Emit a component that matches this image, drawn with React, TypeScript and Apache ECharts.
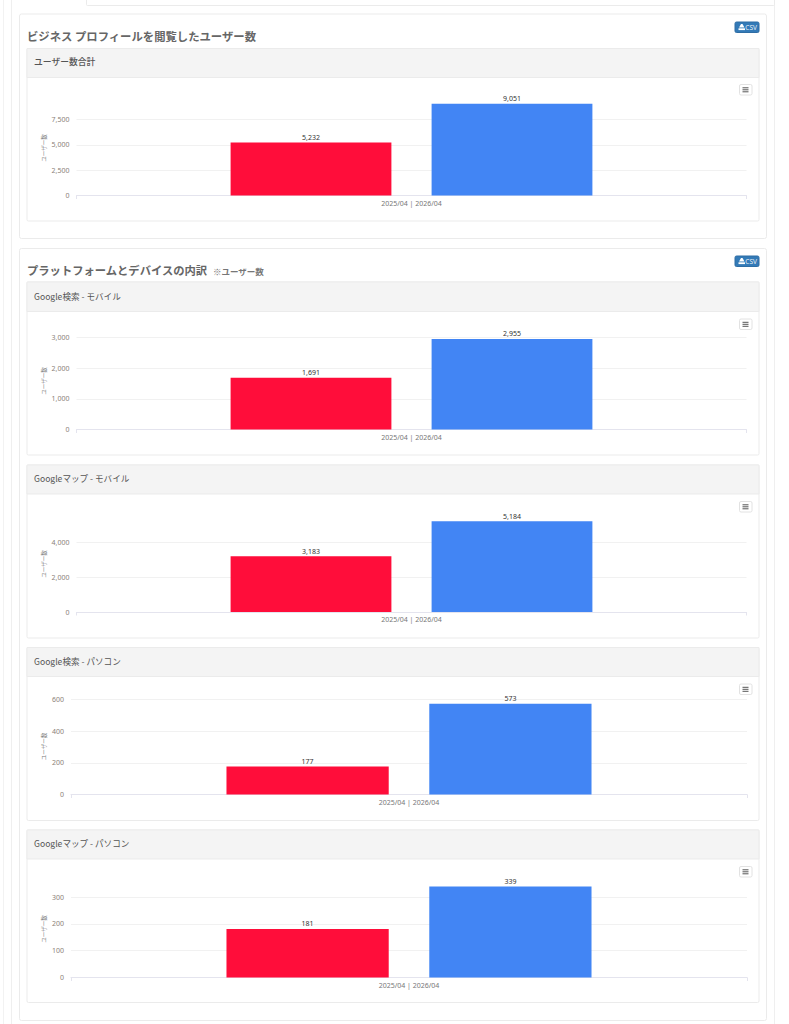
import React, { useEffect, useRef } from "react";
import * as echarts from "echarts";

const categories = ["2025/04 | 2026/04"];
const seriesNames = ["2025/04", "2026/04"];
const seriesColors = ["#ff0d3a", "#4285f4"];
const axisName = "ユーザー数";

const totalValues = [5232, 9051];
const searchMobileValues = [1691, 2955];
const mapMobileValues = [3183, 5184];
const searchPcValues = [177, 573];
const mapPcValues = [181, 339];

const chartTitles = ["ユーザー数合計", "Google検索 - モバイル", "Googleマップ - モバイル", "Google検索 - パソコン", "Googleマップ - パソコン"];
const sectionTitle1 = "ビジネス プロフィールを閲覧したユーザー数";
const sectionTitle2 = "プラットフォームとデバイスの内訳";
const sectionNote = "※ユーザー数";

const charts = [
  { values: totalValues, title: chartTitles[0], max: 10000, interval: 2500, hideTop: true, left: 76.5, width: 670, top: 94.17, height: 101.33, panel: [48, 77, 220.5], nameY: 148, btnY: 84.5 },
  { values: searchMobileValues, title: chartTitles[1], max: 3000, interval: 1000, hideTop: false, left: 76.5, width: 670, top: 337.5, height: 92, panel: [281.5, 311, 454.5], nameY: 381, btnY: 319 },
  { values: mapMobileValues, title: chartTitles[2], max: 6000, interval: 2000, hideTop: true, left: 76.5, width: 670, top: 507, height: 105, panel: [464.5, 493.5, 637.5], nameY: 564, btnY: 501.5 },
  { values: searchPcValues, title: chartTitles[3], max: 600, interval: 200, hideTop: false, left: 71, width: 676, top: 699.5, height: 95, panel: [647, 676, 820], nameY: 746.5, btnY: 684 },
  { values: mapPcValues, title: chartTitles[4], max: 400, interval: 100, hideTop: true, left: 71, width: 676, top: 870.2, height: 107.3, panel: [829.5, 858.5, 1002], nameY: 929, btnY: 866.5 },
];

const CJK = '"Noto Sans CJK JP", "Noto Sans", sans-serif';
const LATIN = '"Noto Sans", "Noto Sans CJK JP", sans-serif';
const BORDER = "#ebebeb";

const box = (x: number, y: number, w: number, h: number, fill: string, stroke: string, r = 1, z = -5) => ({
  type: "rect", z, silent: true,
  shape: { x: x + 0.5, y: y + 0.5, width: w, height: h, r },
  style: { fill, stroke, lineWidth: 1 },
});
const label = (x: number, y: number, text: string, size: number, fill: string, weight: any = "normal", family = CJK) => ({
  type: "text", z: 5, silent: true, x, y,
  style: { text, fontSize: size, fill, fontWeight: weight, fontFamily: family, textAlign: "left", textVerticalAlign: "middle" },
});

function buildGraphics() {
  const els: any[] = [
    box(3, -5, 771, 1040, "#ffffff", "#f2f2f2", 0, -9),
    box(11, -5, 763, 1040, "#ffffff", "#efefef", 0, -8),
    box(86, -5, 688, 10, "#ffffff", BORDER, 1, -7),
    box(19, 13.5, 747, 224.5, "#ffffff", BORDER, 2, -6),
    box(19, 248, 747, 772, "#ffffff", BORDER, 2, -6),
    label(27, 35.5, sectionTitle1, 11.35, "#666666", "bold"),
    label(27, 270, sectionTitle2, 11.3, "#666666", "bold"),
    label(213, 271, sectionNote, 8.5, "#777777", "bold"),
  ];
  [21.5, 255.5].forEach((y) => {
    els.push(box(734.5, y, 24, 10.5, "#337ab7", "#2e6da4", 1.5, 4));
    els.push({ type: "polygon", z: 6, silent: true, shape: { points: [[739, y + 6], [741, y + 2.5], [742.5, y + 2.5], [744.5, y + 6]] }, style: { fill: "#ffffff" } });
    els.push({ type: "rect", z: 6, silent: true, shape: { x: 738.5, y: y + 6.8, width: 6.5, height: 1.8 }, style: { fill: "#ffffff" } });
    els.push(label(745.3, y + 5.6, "CSV", 6.5, "#e8f0f8", "normal", LATIN));
  });
  charts.forEach((c) => {
    const [top, headerBottom, bottom] = c.panel;
    els.push(box(26.5, top, 732, bottom - top, "#ffffff", BORDER, 1.5));
    els.push({ type: "rect", z: -4, silent: true, shape: { x: 27, y: top + 0.5, width: 732, height: headerBottom - top }, style: { fill: "#f4f4f4", stroke: BORDER, lineWidth: 1 } });
    els.push(label(34, (top + headerBottom) / 2 - 0.7, c.title, c === charts[0] ? 8.8 : 8.6, "#555555", c === charts[0] ? 500 : "normal"));
    els.push(box(739, c.btnY - 0.5, 12.5, 10.5, "#ffffff", "#e2e2e2", 1.5, 4));
    [2.8, 4.8, 6.8].forEach((d) => {
      els.push({ type: "rect", z: 6, silent: true, shape: { x: 742.5, y: c.btnY + d, width: 6, height: 1 }, style: { fill: "#555555" } });
    });
    els.push({
      type: "text", z: 5, silent: true, x: 44, y: c.nameY, rotation: Math.PI / 2,
      style: { text: axisName, fontSize: 5.5, fill: "#777777", fontFamily: CJK, textAlign: "center", textVerticalAlign: "middle" },
    });
  });
  return els;
}

export default function App() {
  const ref = useRef<HTMLDivElement>(null);
  useEffect(() => {
    document.body.style.margin = "0";
    const chart = echarts.init(ref.current!, null, { renderer: "svg" });
    chart.setOption({
      animation: false,
      backgroundColor: "#ffffff",
      graphic: { elements: buildGraphics() },
      grid: charts.map((c) => ({ left: c.left, top: c.top, width: c.width, height: c.height, containLabel: false })),
      xAxis: charts.map((_, i) => ({
        type: "category", gridIndex: i, data: categories,
        axisLine: { lineStyle: { color: "#e4e4ee", width: 1 } },
        axisTick: { show: true, length: 3.5, lineStyle: { color: "#e4e4ee" } },
        axisLabel: { color: "#777777", fontSize: 7, margin: 4, fontFamily: LATIN },
      })),
      yAxis: charts.map((c, i) => ({
        type: "value", gridIndex: i, min: 0, max: c.max, interval: c.interval,
        axisLine: { show: false }, axisTick: { show: false },
        splitLine: { lineStyle: { color: "#f1f1f1", width: 1 }, showMaxLine: !c.hideTop },
        axisLabel: {
          color: "#8a8178", fontSize: 7, margin: 7, fontFamily: LATIN, showMaxLabel: !c.hideTop,
          formatter: (v: number) => v.toLocaleString("en-US"),
        },
      })),
      series: charts.flatMap((c, i) => seriesNames.map((name, s) => ({
        type: "bar", name, xAxisIndex: i, yAxisIndex: i,
        data: [c.values[s]], barWidth: "24%", barGap: "25%",
        itemStyle: { color: seriesColors[s] },
        label: {
          show: true, position: "top", distance: 1.5, color: "#333333", fontSize: 7, fontFamily: LATIN,
          formatter: (p: any) => Number(p.value).toLocaleString("en-US"),
        },
      }))),
    });
    return () => chart.dispose();
  }, []);
  return <div ref={ref} style={{ width: 789, height: 1024, position: "absolute", left: 0, top: 0 }} />;
}
